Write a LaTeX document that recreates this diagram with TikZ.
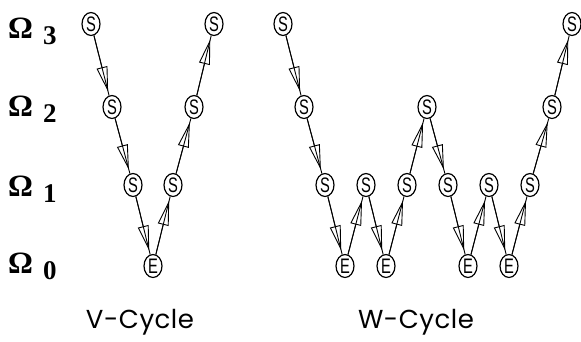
\documentclass[tikz,border=0pt]{standalone}
\usepackage{fontspec}
\setmainfont{Liberation Serif}
\newfontfamily\nodefont{Liberation Sans}
\newfontfamily\capfont[LetterSpace=2]{Poppins}
\usetikzlibrary{arrows.meta,shapes.geometric}

\tikzset{
  grid/.style={ellipse, draw, line width=1.2pt, minimum width=18pt, minimum height=23pt,
    inner sep=0pt, font=\nodefont\fontsize{21}{21}\selectfont},
  link/.style={line width=0.9pt},
  head/.style={line width=0.9pt, shorten >=4pt,
    -{Triangle[open, length=25pt, width=11pt, line width=0.9pt]}},
  level/.style={anchor=base west, inner sep=0pt, font=\fontsize{31}{31}\selectfont\bfseries},
  caption/.style={font=\capfont\fontsize{26}{26}\selectfont}
}
\newcommand{\sm}{\scalebox{0.7}[1]{S}}
\newcommand{\cg}{\scalebox{0.7}[1]{E}}
\newcommand{\lev}[1]{Ω\hspace{10pt}\raisebox{-6pt}{\fontsize{27}{27}\selectfont #1}}

\begin{document}
\begin{tikzpicture}[x=1pt, y=-1pt]
  \useasboundingbox (0,0) rectangle (581,341);

  % level labels
  \node[level] (L3) at (8,38) {\lev{3}};
  \node[level] (L2) at (8,116) {\lev{2}};
  \node[level] (L1) at (8,196) {\lev{1}};
  \node[level] (L0) at (8,273) {\lev{0}};

  % V-cycle
  \node[grid] (v1) at (91,24)  {\sm};
  \node[grid] (v2) at (112,107) {\sm};
  \node[grid] (v3) at (133,185) {\sm};
  \node[grid] (v4) at (153,266) {\cg};
  \node[grid] (v5) at (173,185) {\sm};
  \node[grid] (v6) at (194,107) {\sm};
  \node[grid] (v7) at (214,24)  {\sm};

  % W-cycle
  \node[grid] (w1)  at (283,24)  {\sm};
  \node[grid] (w2)  at (304,107) {\sm};
  \node[grid] (w3)  at (325,185) {\sm};
  \node[grid] (w4)  at (345,266) {\cg};
  \node[grid] (w5)  at (366,185) {\sm};
  \node[grid] (w6)  at (386,266) {\cg};
  \node[grid] (w7)  at (407,185) {\sm};
  \node[grid] (w8)  at (427,107) {\sm};
  \node[grid] (w9)  at (448,185) {\sm};
  \node[grid] (w10) at (468,266) {\cg};
  \node[grid] (w11) at (489,185) {\sm};
  \node[grid] (w12) at (509,266) {\cg};
  \node[grid] (w13) at (530,185) {\sm};
  \node[grid] (w14) at (552,107) {\sm};
  \node[grid] (w15) at (572,24)  {\sm};

  % connectors: a full line plus an open head stopping short of the target
  \foreach \a/\b in {v1/v2, v2/v3, v3/v4, v4/v5, v5/v6, v6/v7,
      w1/w2, w2/w3, w3/w4, w4/w5, w5/w6, w6/w7, w7/w8, w8/w9,
      w9/w10, w10/w11, w11/w12, w12/w13, w13/w14, w14/w15} {
    \draw[link] (\a) -- (\b);
    \draw[head] (\a) -- (\b);
  }

  % captions
  \node[caption] (cv) at (140,322) {V-Cycle};
  \node[caption] (cw) at (416,322) {W-Cycle};
\end{tikzpicture}
\end{document}
